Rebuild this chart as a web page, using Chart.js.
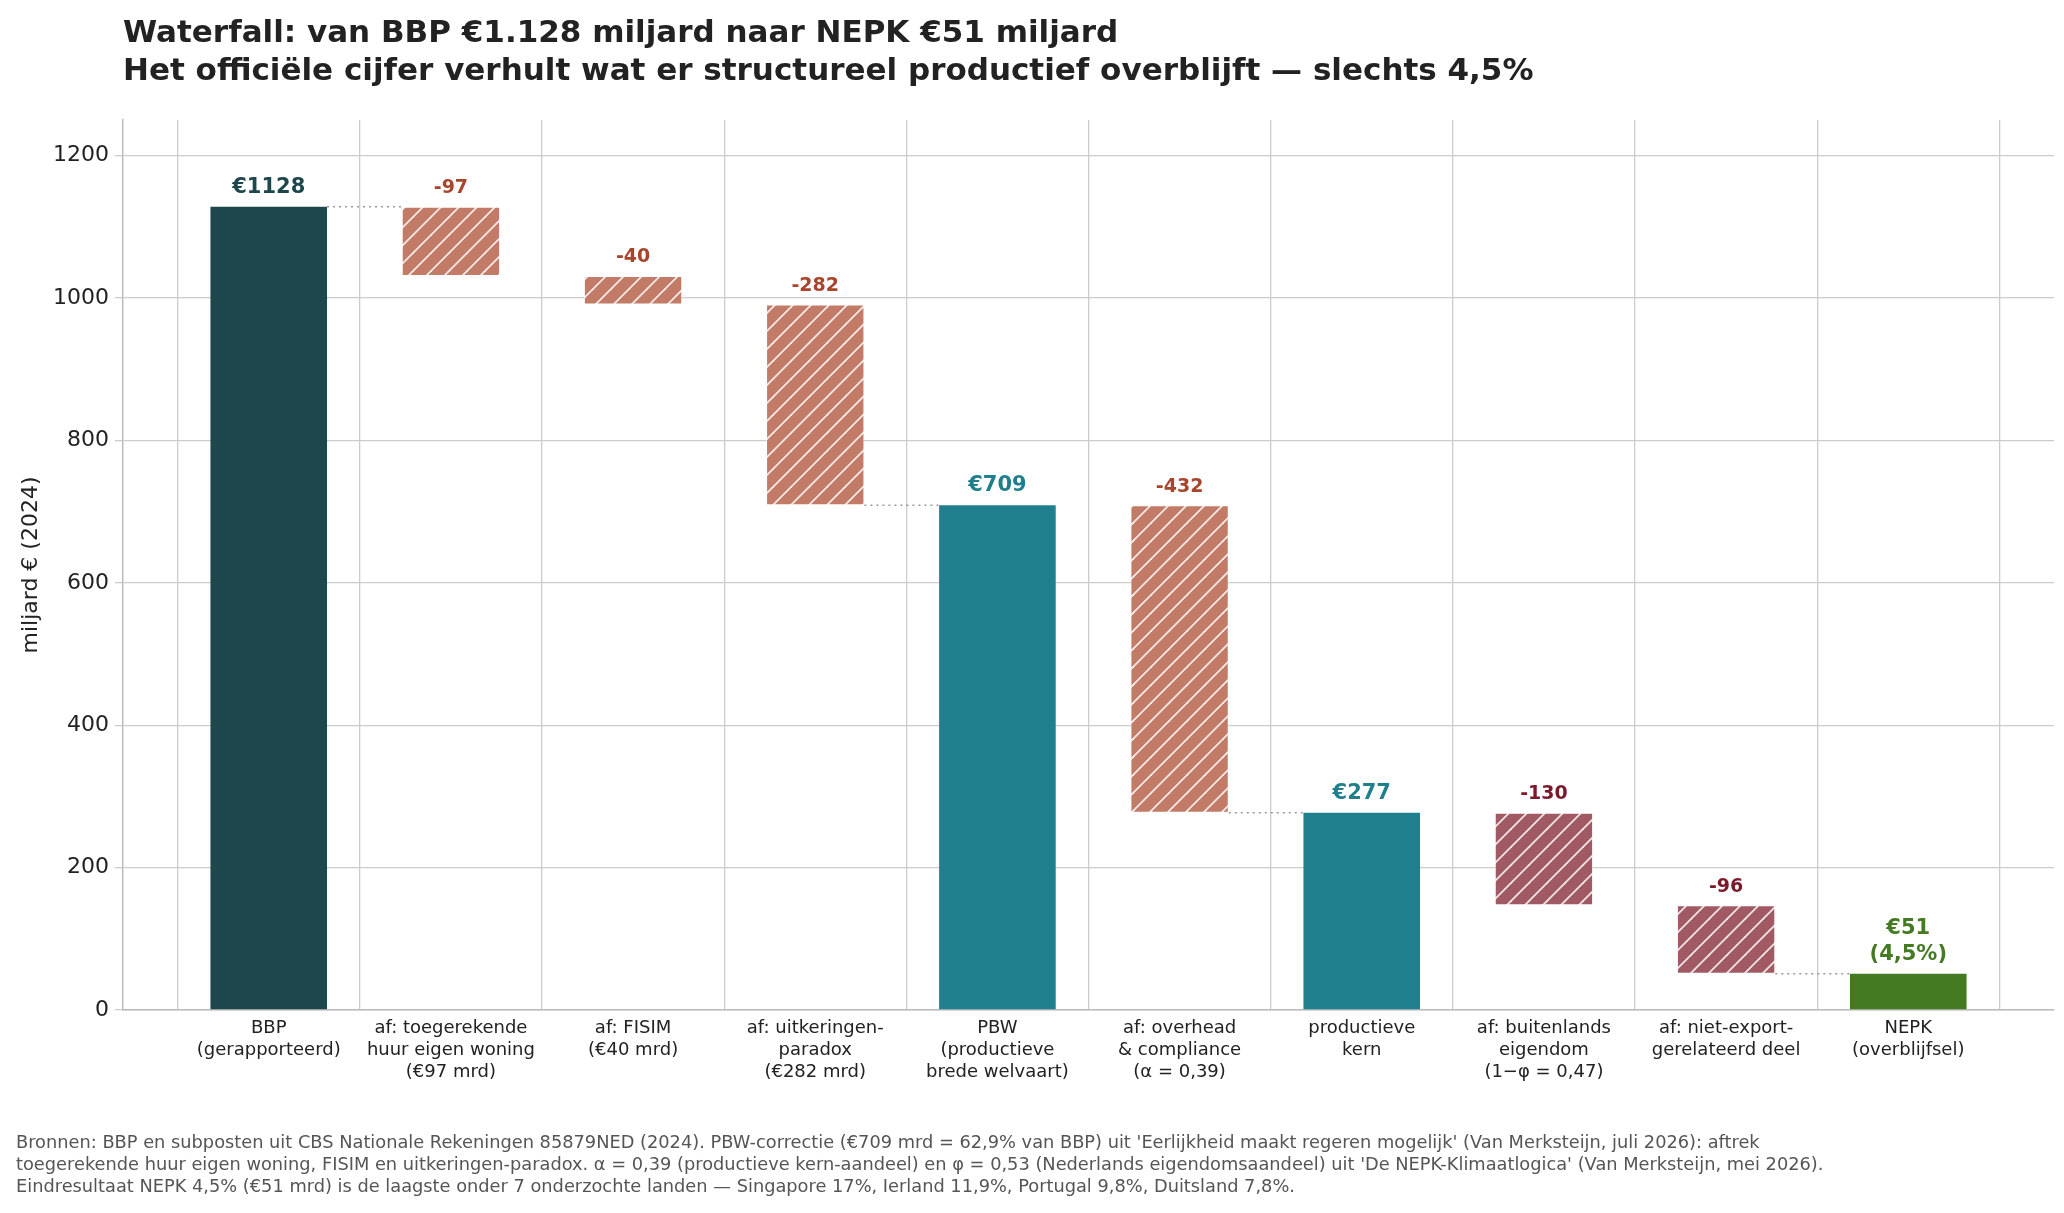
<!DOCTYPE html>
<html><head><meta charset="utf-8">
<script src="https://cdn.jsdelivr.net/npm/chart.js@4"></script>
<style>
body{margin:0;background:#fff;font-family:"DejaVu Sans",sans-serif;}
#wrap{position:relative;width:2064px;height:1213px;}
.t{position:absolute;left:123px;font-weight:bold;font-size:31px;color:#222;white-space:nowrap}
#foot{position:absolute;left:16px;top:1131px;font-size:17.8px;color:#555;line-height:22px;white-space:nowrap}
</style></head><body>
<div id="wrap">
<canvas id="c" width="2064" height="1213"></canvas>
<div class="t" style="top:13px">Waterfall: van BBP €1.128 miljard naar NEPK €51 miljard</div>
<div class="t" style="top:51px">Het officiële cijfer verhult wat er structureel productief overblijft — slechts 4,5%</div>
<div id="foot">Bronnen: BBP en subposten uit CBS Nationale Rekeningen 85879NED (2024). PBW-correctie (€709 mrd = 62,9% van BBP) uit 'Eerlijkheid maakt regeren mogelijk' (Van Merksteijn, juli 2026): aftrek<br>toegerekende huur eigen woning, FISIM en uitkeringen-paradox. α = 0,39 (productieve kern-aandeel) en φ = 0,53 (Nederlands eigendomsaandeel) uit 'De NEPK-Klimaatlogica' (Van Merksteijn, mei 2026).<br>Eindresultaat NEPK 4,5% (€51 mrd) is de laagste onder 7 onderzochte landen — Singapore 17%, Ierland 11,9%, Portugal 9,8%, Duitsland 7,8%.</div>
</div>
<script>
const categories=[["BBP","(gerapporteerd)"],["af: toegerekende","huur eigen woning","(€97 mrd)"],["af: FISIM","(€40 mrd)"],["af: uitkeringen-","paradox","(€282 mrd)"],["PBW","(productieve","brede welvaart)"],["af: overhead","& compliance","(α = 0,39)"],["productieve","kern"],["af: buitenlands","eigendom","(1−φ = 0,47)"],["af: niet-export-","gerelateerd deel"],["NEPK","(overblijfsel)"]];
const steps=[1128,-97,-40,-282,709,-432,277,-130,-96,51];
const isTotal=[true,false,false,false,true,false,true,false,false,true];
const labels=["€1128","-97","-40","-282","€709","-432","€277","-130","-96",["€51","(4,5%)"]];
const connectors=[0,3,5,8];
const barColors=["#1d474d","#c27b67","#c27b67","#c27b67","#1f7f8c","#c27b67","#1f7f8c","#a15a64","#a15a64","#437a22"];
const labelColors=["#1d474d","#a8452d","#a8452d","#a8452d","#1f7f8c","#a8452d","#1f7f8c","#7a1a2a","#7a1a2a","#437a22"];
const yTicks=[0,200,400,600,800,1000,1200];

const ranges=[];let run=0;
steps.forEach((v,i)=>{ if(isTotal[i]){run=v;ranges.push([0,v]);} else {ranges.push([run+v,run]);run+=v;} });

function hatch(col){const n=18;const p=document.createElement('canvas');p.width=p.height=n;const g=p.getContext('2d');
g.fillStyle=col;g.fillRect(0,0,n,n);g.strokeStyle='rgba(255,255,255,0.85)';g.lineWidth=1.8;
[[-n,n,n,-n],[0,n,n,0],[0,2*n,2*n,0]].forEach(a=>{g.beginPath();g.moveTo(a[0],a[1]);g.lineTo(a[2],a[3]);g.stroke();});
return g.createPattern(p,'repeat');}
const ctx=document.getElementById('c').getContext('2d');
const deltaFill=barColors.map((c,i)=>isTotal[i]?c:hatch(c));

const ann={id:'ann',afterDatasetsDraw(ch){
 const c=ch.ctx,y=ch.scales.y;
 const metaT=ch.getDatasetMeta(0),metaD=ch.getDatasetMeta(1);
 const el=i=>isTotal[i]?metaT.data[i]:metaD.data[i];
 c.save();
 c.setLineDash([2,4]);c.strokeStyle='#999';c.lineWidth=1.5;
 connectors.forEach(i=>{
  const lvl=isTotal[i]?ranges[i][1]:ranges[i][0];
  const a=el(i),b=el(i+1);const py=y.getPixelForValue(lvl);
  c.beginPath();c.moveTo(a.x+a.width/2,py);c.lineTo(b.x-b.width/2,py);c.stroke();
 });
 c.setLineDash([]);c.textAlign='center';c.textBaseline='bottom';
 steps.forEach((v,i)=>{const e=el(i);const top=y.getPixelForValue(ranges[i][1]);
  c.fillStyle=labelColors[i];c.font=(isTotal[i]?'bold 21px':'bold 19px')+' "DejaVu Sans"';
  const L=Array.isArray(labels[i])?labels[i]:[labels[i]];
  L.slice().reverse().forEach((s,k)=>c.fillText(s,e.x,top-9-k*26));
 });
 c.restore();}};

new Chart(ctx,{type:'bar',
 data:{datasets:[
  {data:ranges.map((r,i)=>({x:i,y:isTotal[i]?r:null})),backgroundColor:barColors,barPercentage:0.64,categoryPercentage:1,grouped:false,skipNull:true},
  {data:ranges.map((r,i)=>({x:i,y:isTotal[i]?null:r})),backgroundColor:deltaFill,borderColor:'rgba(255,255,255,0.6)',borderWidth:1,borderSkipped:false,barPercentage:0.54,categoryPercentage:1,grouped:false,skipNull:true}
 ]},
 options:{responsive:false,animation:false,devicePixelRatio:1,
  layout:{padding:{top:120,right:10,left:14,bottom:0}},
  plugins:{legend:{display:false},tooltip:{enabled:false}},
  scales:{
   x:{type:'linear',min:-0.8,max:9.8,offset:false,grid:{color:'#cccccc',lineWidth:1.3,drawTicks:false},border:{color:'#bbb',width:1.5},
      afterBuildTicks(s){s.ticks=categories.map((_,i)=>({value:i}));},
      ticks:{callback:v=>categories[v],color:'#222',font:{family:'DejaVu Sans',size:18},padding:8,maxRotation:0,autoSkip:false},
      afterFit(s){s.height=203;}},
   y:{min:0,max:1250,grid:{color:'#cccccc',lineWidth:1.3,drawTicks:true,tickLength:8},border:{color:'#bbb',width:1.5},
      afterBuildTicks(s){s.ticks=yTicks.map(v=>({value:v}));},
      ticks:{callback:v=>String(v),color:'#222',font:{family:'DejaVu Sans',size:22},padding:6},
      title:{display:true,text:'miljard € (2024)',color:'#222',font:{family:'DejaVu Sans',size:22}},
      afterFit(s){s.width=109;}}
  }},plugins:[ann]});
</script></body></html>
